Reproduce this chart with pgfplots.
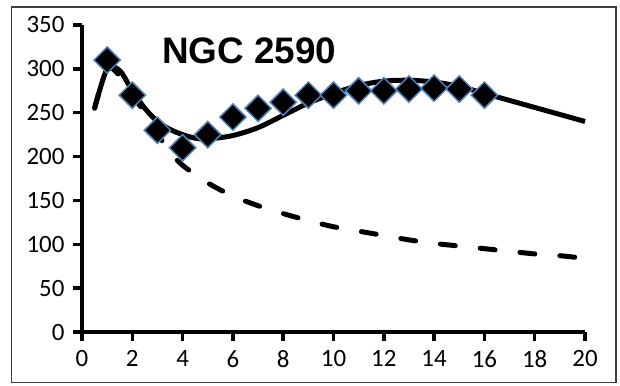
\documentclass[border=0pt]{standalone}
\usepackage{pgfplots}
\pgfplotsset{compat=1.18}
\usepackage{fontspec}
\setmainfont{Carlito}
\newfontfamily\arialb{Liberation Sans}
\definecolor{mkblue}{HTML}{4F81BD}
\begin{document}
\begin{tikzpicture}[x=1bp,y=1bp]
\useasboundingbox (-82,-53) rectangle (538,332);
\draw[line width=1.5bp, black!75] (-70.5,-50.5) rectangle (534,325);
\begin{axis}[
  at={(0,0)}, anchor=origin,
  scale only axis, width=503bp, height=307bp,
  xmin=0, xmax=20, ymin=0, ymax=350,
  axis lines=left,
  axis line style={-, line width=4bp},
  xtick={0,2,...,20}, ytick={0,50,...,350},
  tick align=outside, major tick length=9bp,
  tick style={line width=3.5bp, black},
  ticklabel style={font=\fontsize{25}{29}\selectfont},
  /pgf/number format/assume math mode=true,
  xticklabel style={yshift=-6bp},
  yticklabel style={xshift=-5bp},
  clip=false,
]
\addplot[black, line width=5bp, smooth, tension=0.5] coordinates {
(0.5,255)(1,300)(1.5,298)(2,275)(2.5,255)(3,240)(3.5,231)(4,225)(4.5,221)(5,220)
(6,224)(7,233)(8,247)(9,261)(10,272)(11,281)(12,286)(13,287)(14,285)(15,280)
(16,272)(17,264)(18,256)(19,248)(20,240)};
\addplot[black, line width=5bp, smooth, tension=0.5, line cap=round, dash pattern=on 15bp off 25bp] coordinates {
(0.5,255)(1,300)(1.5,292)(2,270)(2.5,250)(3,226)(3.5,205)(4,190)(5,170)
(6,155)(7,144)(8,135)(9,127)(10,120)(11,115)(12,110)(13,105)(14,101)(15,98)
(16,95)(17,92)(18,89)(19,87)(20,84)};
\addplot[only marks, mark=square*, mark size=9.3bp,
  mark options={rotate=45, fill=black, draw=mkblue, line width=1.5bp}] coordinates {
(1,310)(2,270)(3,230)(4,210)(5,225)(6,245)(7,255)(8,262)(9,270)(10,270)
(11,275)(12,275)(13,277)(14,278)(15,277)(16,270)};
\node[anchor=base west, inner sep=0pt, font=\arialb\bfseries\fontsize{37}{40}\selectfont]
  at (axis cs:3.18,306) {NGC 2590};
\end{axis}
\end{tikzpicture}
\end{document}
